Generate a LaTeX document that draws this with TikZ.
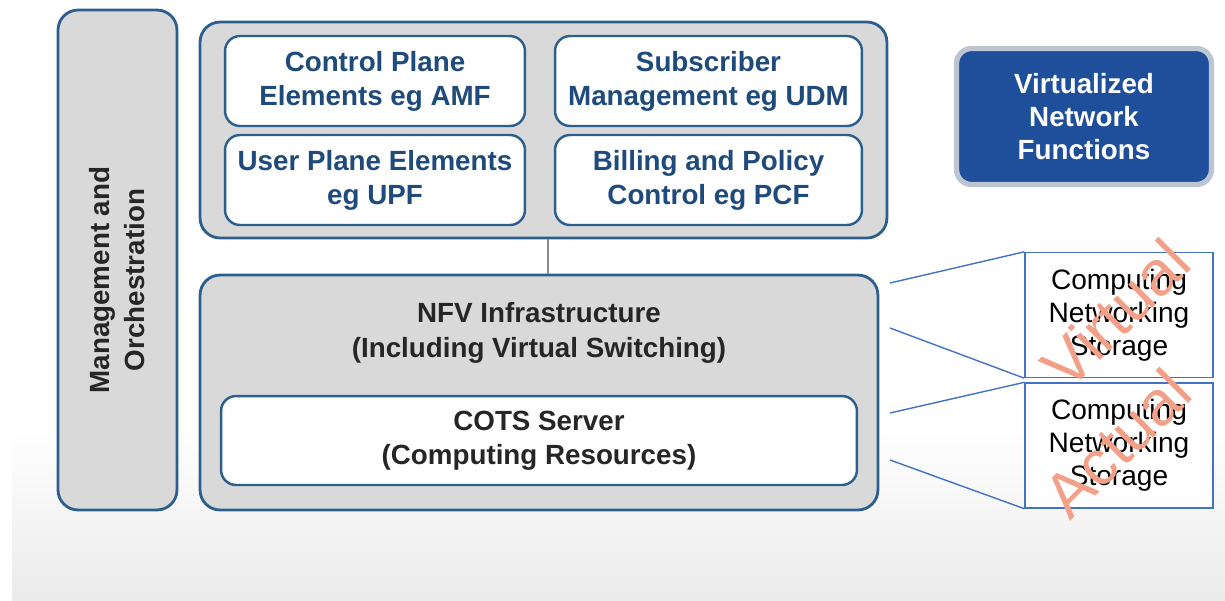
\documentclass[tikz,border=0pt]{standalone}
\usepackage{fontspec}
\setmainfont{Liberation Sans}
\usetikzlibrary{positioning, calc}
\definecolor{edgeblue}{HTML}{2D5F8E}
\definecolor{textblue}{HTML}{1F4A7C}
\definecolor{panelgray}{HTML}{D9D9D9}
\definecolor{vnfblue}{HTML}{1F4F9A}
\definecolor{halo}{HTML}{BCC6D2}
\definecolor{zoomblue}{HTML}{4472C4}
\definecolor{salmon}{HTML}{F2A088}
\colorlet{darktext}{black!85}
\tikzset{
  panel/.style={draw=edgeblue, line width=1.6pt, fill=panelgray, rounded corners=0.4cm},
  elem/.style={draw=edgeblue, line width=1.4pt, fill=white, rounded corners=0.3cm,
    minimum width=6cm, minimum height=1.8cm, align=center, text=textblue,
    font=\bfseries\fontsize{15.8}{19.3}\selectfont},
  layertext/.style={align=center, text=darktext, font=\bfseries\fontsize{15.8}{19.6}\selectfont},
  resbox/.style={draw=zoomblue, line width=0.8pt, fill=white,
    minimum width=3.76cm, minimum height=2.5cm, align=center,
    font=\fontsize{16}{18.7}\selectfont},
  zoomline/.style={draw=zoomblue, line width=0.8pt},
  stamp/.style={text=salmon, font=\fontsize{36}{36}\selectfont, rotate=45}
}

\begin{document}
\begin{tikzpicture}[x=0.02cm, y=-0.02cm]
    \useasboundingbox (0,0) rectangle (1225,600);
    % grey floor
    \fill[top color=white, bottom color=black!8] (12,430) rectangle (1225,600);

    % Management and orchestration
    \node[panel, minimum width=2.38cm, minimum height=10cm] (mano) at (117.5,260) {};
    \node[layertext, rotate=90] (manotxt) at (117,280) {Management and\\Orchestration};

    % VNF layer
    \node[panel, minimum width=13.74cm, minimum height=4.32cm] (vnfc) at (543.5,130) {};
    \node[elem] (cp) at (375,81) {Control Plane\\Elements eg AMF};
    \node[elem, minimum width=6.14cm] (sm) at (708.5,81) {Subscriber\\Management eg UDM};
    \node[elem] (up) at (375,180) {User Plane Elements\\eg UPF};
    \node[elem, minimum width=6.14cm] (bp) at (708.5,180) {Billing and Policy\\Control eg PCF};

    % NFV infrastructure
    \node[panel, minimum width=13.56cm, minimum height=4.7cm] (nfvi) at (539,392.5) {};
    \node[layertext] (nfvitxt) at (539,333) {NFV Infrastructure\\(Including Virtual Switching)};
    \node[elem, text=darktext, minimum width=12.72cm, minimum height=1.78cm] (cots) at (539,440.5)
      {COTS Server\\(Computing Resources)};
    \draw[black!45, line width=1pt] (vnfc.south -| 548,0) -- (nfvi.north -| 548,0);

    % legend box
    \node[draw=halo, line width=3pt, fill=vnfblue, rounded corners=0.3cm,
      minimum width=5.1cm, minimum height=2.72cm, align=center, text=white,
      font=\bfseries\fontsize{15.8}{19}\selectfont] (vnf) at (1084,116.5)
      {Virtualized\\Network\\Functions};

    % virtual and actual resources
    \node[resbox] (virt) at (1119,315) {Computing\\Networking\\Storage};
    \node[resbox] (act) at (1119,445.5) {Computing\\Networking\\Storage};
    \coordinate (z1) at (890,283);
    \coordinate (z2) at (890,328);
    \coordinate (z3) at (890,413);
    \coordinate (z4) at (890,460);
    \draw[zoomline] (z1) -- (virt.north west);
    \draw[zoomline] (z2) -- (virt.south west);
    \draw[zoomline] (z3) -- (act.north west);
    \draw[zoomline] (z4) -- (act.south west);
    \node[stamp] (virtmark) at (1115,314) {Virtual};
    \node[stamp] (actmark) at (1117,443) {Actual};
\end{tikzpicture}
\end{document}
